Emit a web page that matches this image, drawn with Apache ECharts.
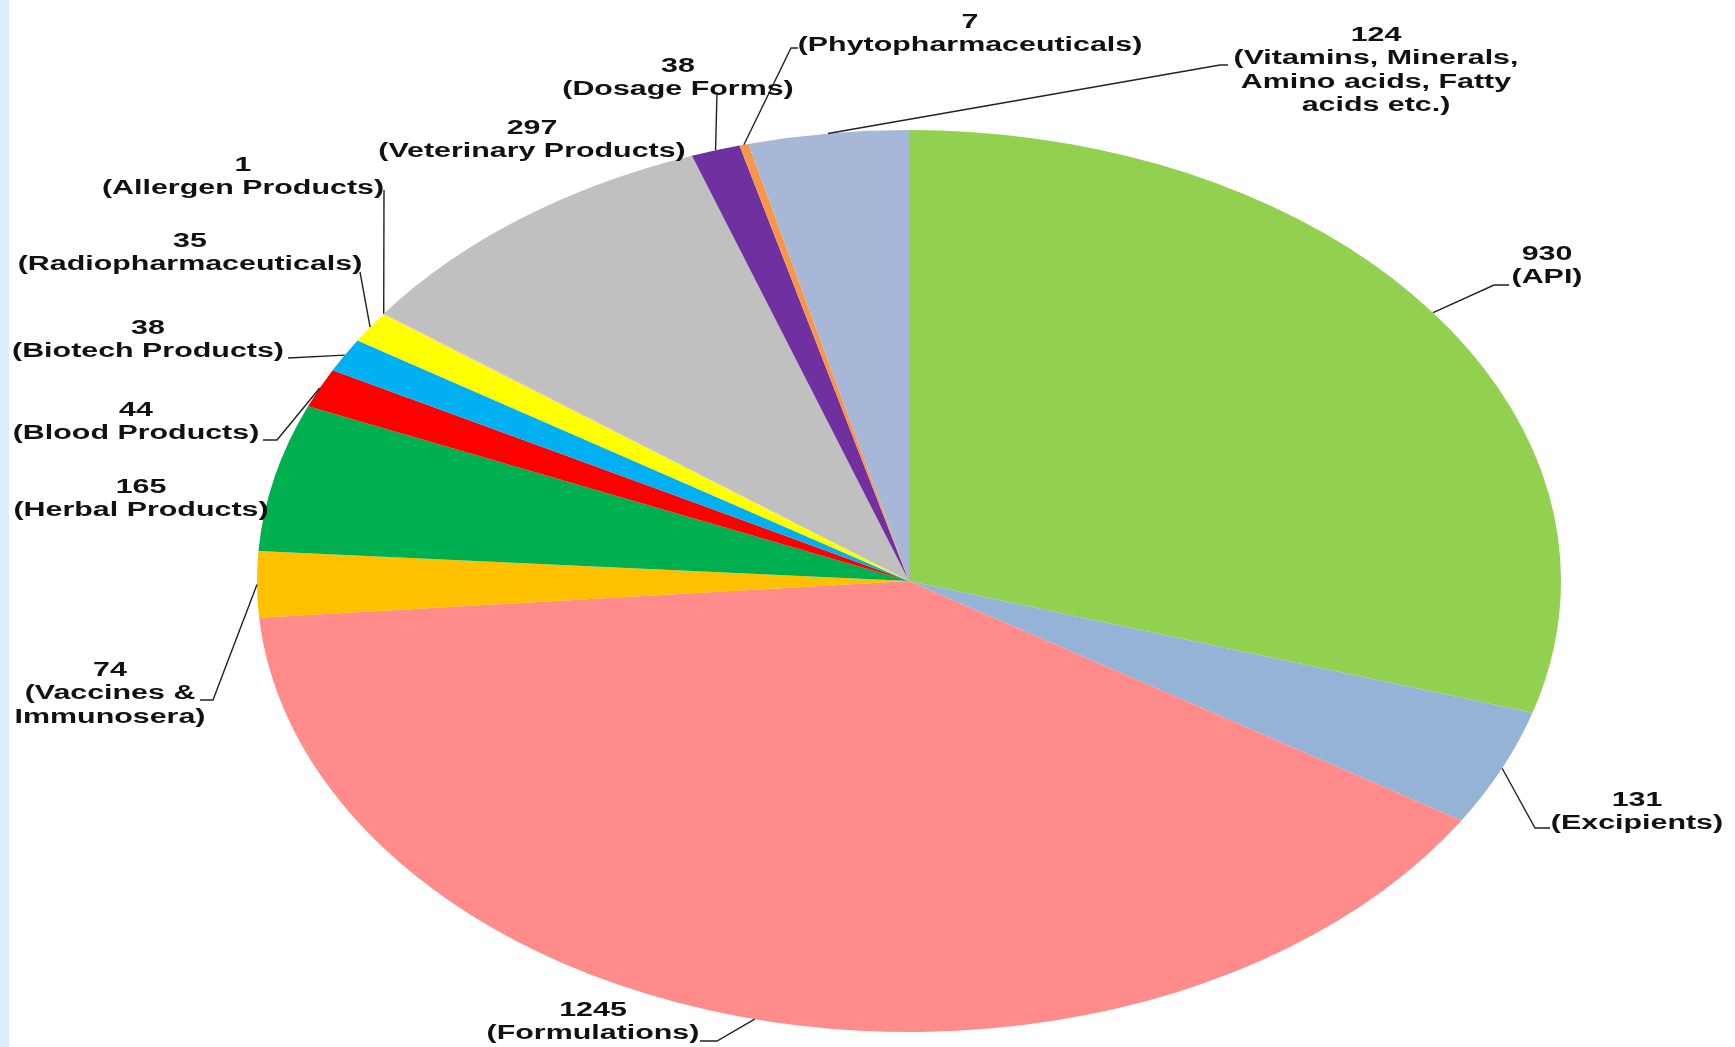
<!DOCTYPE html>
<html>
<head>
<meta charset="utf-8">
<script src="https://cdn.jsdelivr.net/npm/echarts@6/dist/echarts.min.js"></script>
<style>
  html, body { margin: 0; padding: 0; background: #fff; }
  #chart { width: 1735px; height: 1047px; }
</style>
</head>
<body>
<div id="chart"></div>
<script>
// Registered product counts by category
const categories = [
  'API',
  'Excipients',
  'Formulations',
  'Vaccines &\nImmunosera',
  'Herbal Products',
  'Blood Products',
  'Biotech Products',
  'Radiopharmaceuticals',
  'Allergen Products',
  'Veterinary Products',
  'Dosage Forms',
  'Phytopharmaceuticals',
  'Vitamins, Minerals,\nAmino acids, Fatty\nacids etc.'
];
const values = [930, 131, 1245, 74, 165, 44, 38, 35, 1, 297, 38, 7, 124];
const colors = [
  '#92D050', '#95B3D7', '#FF8B8B', '#FFC000', '#00B050', '#FF0000', '#00B0F0',
  '#FFFF00', '#E6B9B8', '#C0C0C0', '#7030A0', '#F79646', '#A7B7D8'
];

// Label placement (px): centre x, centre y of the first line, and the
// leader-line route from the slice edge to the label.
const labelLayout = [
  { x: 1547, y: 254,  leader: [[1494, 285], [1509, 285]] },
  { x: 1637, y: 800,  leader: [[1535, 828], [1550, 828]] },
  { x: 593,  y: 1010, leader: [[717, 1041], [700, 1041]] },
  { x: 110,  y: 670,  leader: [[213, 700], [200, 700]] },
  { x: 141,  y: 487,  leader: null },
  { x: 136,  y: 410,  leader: [[277, 440], [263, 440]] },
  { x: 148,  y: 328,  leader: [[288, 358]] },
  { x: 190,  y: 241,  leader: [[360, 272]] },
  { x: 243,  y: 165,  leader: [[384, 190]] },
  { x: 532,  y: 128,  leader: null },
  { x: 678,  y: 66,   leader: [[717, 92]] },
  { x: 970,  y: 22,   leader: [[791, 48], [798, 48]] },
  { x: 1376, y: 35,   leader: [[1220, 65], [1228, 65]] }
];

// Pie geometry: centre as fraction of the canvas, radius as fraction of
// height, and the horizontal stretch that makes the pie an ellipse.
const CX = 909 / 1735, CY = 581 / 1047, RY = 451 / 1047, SX = 1.4457;
const TEXT_SX = 1.52, LINE_H = 23.5;

const total = values.reduce((a, b) => a + b, 0);
const starts = [];
let acc = 0;
values.forEach(v => { starts.push(acc); acc += v; });

function renderItem(params, api) {
  const i = params.dataIndex;
  const W = api.getWidth(), H = api.getHeight();
  const cx = W * CX, cy = H * CY, r = H * RY;
  const a0 = -Math.PI / 2 + starts[i] / total * Math.PI * 2;
  const a1 = a0 + api.value(0) / total * Math.PI * 2;
  const am = (a0 + a1) / 2;

  const children = [{
    type: 'group',
    x: cx, y: cy, scaleX: SX,
    children: [{
      type: 'sector',
      shape: { cx: 0, cy: 0, r0: 0, r: r, startAngle: a0, endAngle: a1, clockwise: true },
      style: { fill: colors[i] }
    }]
  }];

  const lay = labelLayout[i];
  if (lay.leader) {
    const ex = cx + SX * r * Math.cos(am);
    const ey = cy + r * Math.sin(am);
    children.push({
      type: 'polyline',
      z2: 50,
      shape: { points: [[ex, ey]].concat(lay.leader) },
      style: { stroke: '#222', lineWidth: 1.4, fill: null }
    });
  }

  children.push({
    type: 'text',
    z2: 100,
    x: lay.x, y: lay.y - LINE_H / 2,
    scaleX: TEXT_SX,
    style: {
      text: api.value(0) + '\n(' + categories[i] + ')',
      fill: '#111',
      fontFamily: '"Liberation Sans", Arial, sans-serif',
      fontWeight: 'bold',
      fontSize: 20,
      lineHeight: LINE_H,
      align: 'center',
      verticalAlign: 'top'
    }
  });

  return { type: 'group', children: children };
}

const chart = echarts.init(document.getElementById('chart'), null, { renderer: 'canvas' });
chart.setOption({
  backgroundColor: '#ffffff',
  animation: false,
  graphic: [{
    type: 'rect', left: 0, top: 0, z: -1,
    shape: { width: 9, height: 1047 },
    style: { fill: '#DCEEFB' }
  }],
  series: [{
    type: 'custom',
    coordinateSystem: 'none',
    silent: true,
    renderItem: renderItem,
    data: values.map(v => [v])
  }]
});
</script>
</body>
</html>
